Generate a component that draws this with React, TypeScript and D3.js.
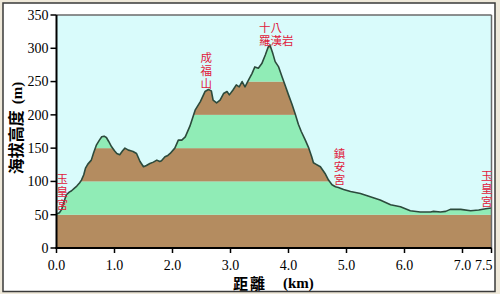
import React from "react";
import * as d3 from "d3";

const distanceKm = [
  0.0, 0.05, 0.09, 0.13, 0.17, 0.22, 0.26, 0.31, 0.35, 0.4, 0.43, 0.47, 0.5, 0.54, 0.6, 0.64, 0.69, 0.74, 0.78, 0.82,
  0.86, 0.9, 0.95, 1.0, 1.04, 1.09, 1.14, 1.18, 1.24, 1.28, 1.32, 1.38, 1.44, 1.5, 1.55, 1.61, 1.67, 1.73, 1.78, 1.81,
  1.87, 1.92, 1.96, 2.04, 2.08, 2.1, 2.16, 2.22, 2.3, 2.39, 2.48, 2.56, 2.62, 2.67, 2.7, 2.76, 2.82, 2.88, 2.94, 2.98,
  3.04, 3.1, 3.15, 3.2, 3.25, 3.31, 3.37, 3.42, 3.48, 3.54, 3.6, 3.65, 3.68, 3.73, 3.77, 3.83, 3.89, 3.94, 4.0, 4.06,
  4.12, 4.17, 4.22, 4.29, 4.35, 4.4, 4.43, 4.47, 4.55, 4.63, 4.69, 4.75, 4.81, 4.86, 4.95, 5.07, 5.24, 5.41, 5.58, 5.76,
  5.93, 6.1, 6.27, 6.45, 6.5, 6.62, 6.71, 6.79, 6.97, 7.14, 7.28, 7.4, 7.5,
];
const elevationM = [
  51, 53, 58, 70, 80, 84, 86, 90, 93, 98, 102, 110, 120, 126, 132, 143, 155, 162, 167, 168,
  166, 160, 152, 146, 142, 140, 146, 150, 147, 146, 145, 142, 130, 122, 124, 127, 129, 132, 130, 131,
  137, 139, 142, 150, 158, 162, 162, 167, 183, 207, 220, 235, 238, 236, 222, 218, 222, 232, 235, 230,
  237, 245, 242, 250, 242, 252, 262, 272, 270, 277, 290, 302, 305, 292, 280, 272, 257, 245, 230, 216,
  200, 186, 175, 162, 150, 137, 128, 126, 122, 112, 102, 95, 92, 91, 88, 85, 82, 77, 72, 65,
  62, 56, 54, 54, 55, 54, 55, 58, 58, 56, 57, 59, 60,
];

const yTicks = [0, 50, 100, 150, 200, 250, 300, 350];
const xTicks = [0, 1, 2, 3, 4, 5, 6, 7, 7.5];
const bandEdges = [0, 50, 100, 150, 200, 250, 300, 350];

// vertical place names
const vPlaceNames = ["玉皇宮", "成福山", "鎮安宮", "玉皇宮"];
const vPlaceKm = [0.1, 2.58, 4.88, 7.42];
// horizontal two-line place name at the summit
const hPlaceLines = ["十八", "羅漢岩"];
const hPlaceKm = 3.49;

export default function App() {
  const W = 500;
  const H = 294;
  const left = 56.5;
  const right = 491.5;
  const top = 15;
  const bottom = 248;

  const x = d3.scaleLinear().domain([0, 7.5]).range([left, right]);
  const y = d3.scaleLinear().domain([0, 350]).range([bottom, top]);

  const pts = distanceKm.map((d, i) => [d, elevationM[i]] as [number, number]);
  const area = d3
    .area<[number, number]>()
    .x((d) => x(d[0]))
    .y0(y(0))
    .y1((d) => y(d[1]));
  const line = d3
    .line<[number, number]>()
    .x((d) => x(d[0]))
    .y((d) => y(d[1]));

  const brown = "#b48c60";
  const green = "#90ecb6";
  const red = "#e0203c";
  const serif = "'Liberation Serif', 'DejaVu Serif', serif";
  const cjk = "'Noto Sans CJK TC', 'Noto Sans CJK SC', sans-serif";

  const vTop = [173, 51.5, 147.5, 170];

  return (
    <svg
      width={W}
      height={H}
      viewBox={`0 0 ${W} ${H}`}
      style={{ position: "absolute", left: 0, top: 0 }}
    >
      <rect x={0} y={0} width={W} height={H} fill="#efe9da" />
      <rect x={3} y={3} width={492} height={288.5} fill="#ffffff" stroke="#3a3a3a" strokeWidth={1.5} />
      <rect x={left} y={top} width={right - left} height={bottom - top} fill="#d9fbfb" />
      <defs>
        <clipPath id="profileClip">
          <path d={area(pts) || ""} />
        </clipPath>
      </defs>
      <g clipPath="url(#profileClip)">
        {bandEdges.slice(0, -1).map((b, i) => (
          <rect
            key={b}
            x={left}
            width={right - left}
            y={y(bandEdges[i + 1])}
            height={y(b) - y(bandEdges[i + 1])}
            fill={i % 2 === 0 ? brown : green}
          />
        ))}
      </g>
      <path d={line(pts) || ""} fill="none" stroke="#2c4a3c" strokeWidth={1.6} strokeLinejoin="round" />

      <line x1={left} x2={right} y1={top} y2={top} stroke="#6a6a6a" strokeWidth={1.5} />
      <line x1={right} x2={right} y1={top} y2={bottom} stroke="#6a6a6a" strokeWidth={1.5} />
      <line x1={left} x2={left} y1={top} y2={bottom + 1} stroke="#000" strokeWidth={2} />
      <line x1={left - 1} x2={right} y1={bottom} y2={bottom} stroke="#000" strokeWidth={2} />

      {yTicks.map((t) => (
        <g key={t}>
          <line x1={left - 6} x2={left} y1={y(t)} y2={y(t)} stroke="#000" strokeWidth={1.5} />
          <text x={48.5} y={y(t)} dy="0.35em" textAnchor="end" fontFamily={serif} fontSize={14} fill="#000">
            {t}
          </text>
        </g>
      ))}
      {xTicks.map((t) => (
        <g key={t}>
          <line x1={x(t)} x2={x(t)} y1={bottom} y2={bottom + 5} stroke="#000" strokeWidth={1.5} />
          <text
            x={t === 7.5 ? x(t) + 1 : x(t)}
            y={269.5}
            textAnchor={t === 7.5 ? "end" : "middle"}
            fontFamily={serif}
            fontSize={14}
            fill="#000"
          >
            {t.toFixed(1)}
          </text>
        </g>
      ))}

      <text x={233} y={288.5} fontFamily={cjk} fontWeight="bold" fontSize={15} letterSpacing={2} fill="#000">
        距離
      </text>
      <text x={283} y={288} fontFamily={serif} fontWeight="bold" fontSize={15} fill="#000">
        (km)
      </text>

      <g transform="translate(22,128) rotate(-90)">
        <text x={0} y={0} textAnchor="middle" fill="#000">
          <tspan fontFamily={cjk} fontWeight="bold" fontSize={16}>海拔高度</tspan>
          <tspan fontFamily={serif} fontWeight="bold" fontSize={15} dx={6}>(m)</tspan>
        </text>
      </g>

      {vPlaceNames.map((name, i) => (
        <text
          key={i}
          x={x(vPlaceKm[i])}
          y={vTop[i]}
          style={{ writingMode: "vertical-rl" }}
          letterSpacing={1.5}
          fontFamily={cjk}
          fontSize={11.5}
          fill={red}
        >
          {name}
        </text>
      ))}
      {hPlaceLines.map((l, j) => (
        <text
          key={j}
          x={x(hPlaceKm)}
          y={31.5 + j * 13.5}
          fontFamily={cjk}
          fontSize={11.5}
          fill={red}
        >
          {l}
        </text>
      ))}
    </svg>
  );
}
